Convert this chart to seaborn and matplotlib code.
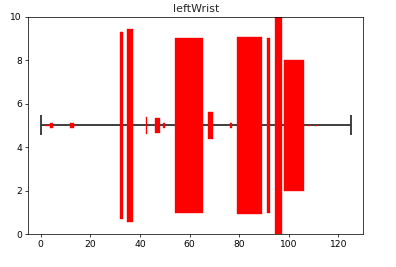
import matplotlib
matplotlib.use("Agg")
import matplotlib.pyplot as plt
import seaborn as sns
import numpy as np

# Data
title = "leftWrist"
line_start = 0
line_end = 125
line_level = 5
seg_start = [1.9, 3.6, 11.9, 13.4, 32.1, 34.8, 42.3, 46.0, 49.3, 54.1, 67.3, 76.4,
             79.3, 91.1, 94.5, 98.2, 107.6, 110.7]
seg_end = [3.6, 5.0, 13.4, 14.4, 33.1, 37.0, 43.0, 48.0, 49.9, 65.3, 69.4, 77.0,
           89.3, 92.4, 97.2, 106.3, 108.7, 111.4]
seg_half = [0.02, 0.1, 0.11, 0.02, 4.31, 4.43, 0.37, 0.36, 0.1, 4.03, 0.61, 0.1,
            4.07, 4.02, 5.6, 3.01, 0.03, 0.03]
xticks = [0, 20, 40, 60, 80, 100, 120]
yticks = [0, 2, 4, 6, 8, 10]

sns.set_style("ticks")
plt.rcParams["font.family"] = ["DejaVu Sans"]

fig = plt.figure(figsize=(6.0, 267 / 66), dpi=66)
ax = fig.add_axes([28.3 / 396, 33 / 267, 335 / 396, 217 / 267])

mid = (line_start + line_end) / 2
ax.errorbar(mid, line_level, xerr=(line_end - line_start) / 2, color="#333333",
            lw=2, capsize=11, capthick=2, zorder=1)

starts = np.array(seg_start)
ends = np.array(seg_end)
half = np.array(seg_half)
ax.bar(starts, 2 * half, width=ends - starts, bottom=line_level - half, align="edge",
       color="red", edgecolor="red", linewidth=0.4, zorder=2)

ax.set_xlim(-5, 130)
ax.set_ylim(0, 10)
ax.set_xticks(xticks)
ax.set_yticks(yticks)
ax.set_title(title, fontsize=12)
for s in ax.spines.values():
    s.set_visible(True)
    s.set_color("black")
    s.set_linewidth(0.8)
ax.tick_params(labelsize=10, length=3.5, width=0.8, colors="black")

fig.savefig("out.png", dpi=66)
